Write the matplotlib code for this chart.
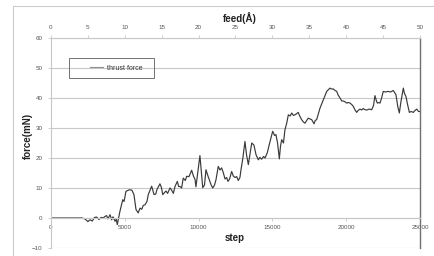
import matplotlib
matplotlib.use("Agg")
import matplotlib.pyplot as plt
from matplotlib.lines import Line2D
from matplotlib.patches import Rectangle

# thrust force vs. simulation step
steps = [0, 2100, 2300, 2500, 2640, 2800, 2950, 3100, 3250, 3400, 3540, 3650,
         3770, 3850, 4000, 4110, 4200, 4340, 4420, 4490, 4560, 4670, 4860, 4950,
         5080, 5300, 5480, 5620, 5760, 5910, 6030, 6150, 6250, 6370, 6500, 6590,
         6820, 6980, 7100, 7180, 7380, 7480, 7570, 7700, 7790, 7900, 8060, 8150,
         8290, 8400, 8560, 8650, 8740, 8850, 8960, 9100, 9190, 9350, 9530, 9650,
         9760, 9820, 10090, 10280, 10400, 10500, 10600, 10720, 10850, 10960, 11080,
         11180, 11330, 11450, 11560, 11680, 11790, 11900, 11990, 12100, 12240, 12350,
         12470, 12580, 12690, 12800, 12870, 13000, 13140, 13250, 13370, 13500, 13600,
         13750, 13890, 14050, 14150, 14270, 14400, 14500, 14650, 14840, 15020, 15150,
         15240, 15350, 15470, 15550, 15630, 15750, 15850, 15970, 16080, 16200, 16310,
         16420, 16530, 16650, 16750, 16850, 16980, 17100, 17210, 17320, 17430, 17550,
         17660, 17750, 17820, 17900, 18000, 18100, 18230, 18450, 18680, 18900, 19000,
         19130, 19250, 19360, 19450, 19580, 19700, 19800, 19900, 20030, 20150, 20260,
         20380, 20480, 20600, 20710, 20800, 20930, 21050, 21150, 21270, 21400, 21550,
         21730, 21850, 21950, 22050, 22110, 22200, 22290, 22400, 22510, 22650, 22850,
         23000, 23190, 23370, 23500, 23600, 23700, 23870, 23950, 24050, 24150, 24280,
         24400, 24550, 24650, 24780, 24900, 25000]
force = [0, 0, -0.3, -1.2, -0.6, -1.0, 0.2, 0.3, -0.5, 0.2, 0, 0.5,
         0.8, -0.3, 1.1, -0.6, 0.4, -1.1, -0.4, -2.2, -0.5, 2.2, 6.1, 5.5,
         8.9, 9.4, 9.3, 7.8, 2.8, 1.7, 3.3, 2.9, 4.2, 4.4, 5.5, 7.8,
         10.6, 7.8, 8.0, 9.5, 11.4, 10.2, 7.8, 8.5, 9.0, 8.2, 10.0, 9.5,
         8.2, 10.5, 12.2, 10.5, 10.5, 10.0, 13.3, 12.5, 13.9, 13.8, 15.9, 14.0,
         12.8, 10.4, 20.8, 10.1, 11.0, 16.1, 14.5, 12.8, 11.0, 10.0, 11.0,
         12.8, 17.2, 16.0, 16.7, 15.0, 13.0, 13.5, 12.2, 13.0, 15.5, 14.0,
         13.5, 13.8, 12.5, 13.5, 16.0, 20.0, 25.5, 21.0, 17.8, 22.0, 25.0,
         24.3, 21.1, 19.4, 20.2, 19.6, 20.5, 20.0, 21.7, 25.5, 28.9, 27.5,
         27.8, 25.0, 19.7, 24.0, 26.1, 25.0, 29.4, 31.6, 34.4, 34.0, 35.0,
         34.2, 34.4, 34.8, 35.2, 34.0, 32.8, 32.0, 31.6, 32.5, 33.3, 33.0,
         32.8, 32.0, 31.4, 32.5, 32.8, 34.5, 36.7, 39.4, 42.2, 43.3, 43.0,
         43.0, 42.5, 42.2, 41.0, 40.0, 39.0, 39.0, 38.8, 38.3, 38.5, 38.3,
         37.8, 37.2, 36.0, 35.2, 35.8, 36.3, 36.0, 36.5, 36.1, 36.0, 36.3,
         36.1, 37.5, 40.8, 39.0, 38.3, 38.5, 38.3, 40.0, 42.2, 42.0, 42.2,
         42.0, 42.5, 41.1, 37.0, 35.0, 38.5, 43.3, 41.5, 40.5, 38.0, 35.2,
         35.5, 35.2, 35.8, 36.3, 35.5, 35.5]

y_ticks = [-10, 0, 10, 20, 30, 40, 50, 60]
step_ticks = [0, 5000, 10000, 15000, 20000, 25000]
feed_ticks = [0, 5, 10, 15, 20, 25, 30, 35, 40, 45, 50]

plt.rcParams["font.family"] = ["Liberation Sans", "DejaVu Sans"]

fig = plt.figure(figsize=(4.35, 2.56), dpi=100)
W, H = 435, 256
ax = fig.add_axes([51 / W, 1 - 248 / H, (420 - 51) / W, (248 - 38) / H])

grid_c = "#c8c8c8"
tick_c = "#555555"

ax.plot(steps, force, color="#3a3a3a", lw=0.85, label="thrust force")
ax.set_xlim(0, 25000)
ax.set_ylim(-10, 60)
ax.set_yticks(y_ticks)
ax.set_xticks(step_ticks)
ax.yaxis.grid(True, color=grid_c, lw=0.8)
ax.set_axisbelow(True)

ax.spines["bottom"].set_position(("data", 0))
ax.spines["bottom"].set_color(grid_c)
ax.spines["left"].set_color(grid_c)
ax.spines["top"].set_color(grid_c)
ax.spines["right"].set_color("#707070")
ax.spines["right"].set_linewidth(1.0)
for s in ["bottom", "left", "top"]:
    ax.spines[s].set_linewidth(0.8)

ax.tick_params(axis="both", labelsize=4.5, colors=tick_c, length=2, width=0.6)
ax.tick_params(axis="x", color=grid_c, pad=3)
ax.tick_params(axis="y", color=grid_c, pad=4)

ax.set_xlabel("step", fontsize=7, fontweight="bold", color="#222222")
ax.xaxis.set_label_coords(235 / W, 1 - 233 / H, transform=fig.transFigure)
ax.set_ylabel("force(mN)", fontsize=7, fontweight="bold", color="#222222")
ax.yaxis.set_label_coords(33 / W, 1 - 136 / H, transform=fig.transFigure)

top = ax.twiny()
top.set_xlim(0, 50)
top.set_xticks(feed_ticks)
top.tick_params(axis="x", labelsize=4.5, colors=tick_c, length=2, width=0.6, pad=4)
top.tick_params(axis="x", color=grid_c)
for s in top.spines.values():
    s.set_visible(False)
top.set_xlabel("feed(Å)", fontsize=7, fontweight="bold", color="#222222")
top.xaxis.set_label_coords(240 / W, 1 - 22 / H, transform=fig.transFigure)

# legend: text/handle without frame, box drawn separately
leg = ax.legend(loc="center left", bbox_to_anchor=(90 / W, 1 - 68 / H),
                bbox_transform=fig.transFigure, fontsize=5, frameon=False,
                handlelength=1.9, borderpad=0, borderaxespad=0,
                handletextpad=0.6)
for t in leg.get_texts():
    t.set_color("#333333")
for l in leg.get_lines():
    l.set_color("#909090")
    l.set_linewidth(0.8)
fig.add_artist(Rectangle((69 / W, 1 - 78 / H), 85 / W, 20 / H, fill=False,
                         edgecolor="#707070", lw=0.7, transform=fig.transFigure))

# chart-area border
fig.add_artist(Line2D([13 / W, 1], [1 - 6 / H, 1 - 6 / H], color="#cccccc",
                      lw=0.8, transform=fig.transFigure))
fig.add_artist(Line2D([13 / W, 13 / W], [0, 1 - 6 / H], color="#cccccc",
                      lw=0.8, transform=fig.transFigure))

fig.savefig("out.png", dpi=100)
